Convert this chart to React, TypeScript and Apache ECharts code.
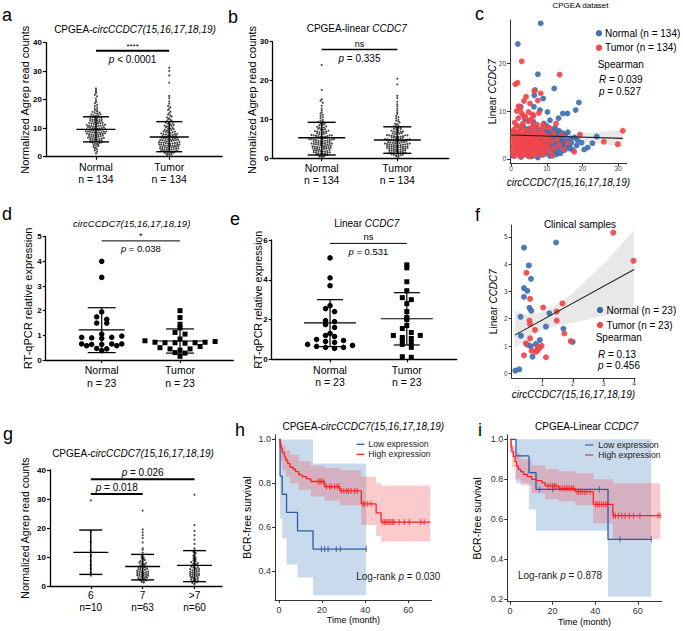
import React, { useEffect, useRef } from "react";
import * as echarts from "echarts";

const FONT = "'Liberation Sans', Arial, Helvetica, sans-serif";
const BLUE = "#3f6fb4";
const RED = "#f0474c";
const KM_BLUE = "#2a5ca8";
const KM_RED = "#ff1f1f";

// ---------------- panel a : CPGEA circCCDC7 read counts ----------------
const abCategories = ["Normal", "Tumor"];
const abCounts = ["n = 134", "n = 134"];
const aNormal = [
  1.2, 1.8, 2.2, 2.6, 2.9, 3.1, 3.4, 3.7, 3.9, 4.1, 4.2, 4.5, 4.6, 4.8, 4.9,
  5.0, 5.2, 5.3, 5.4, 5.6, 5.7, 5.8, 5.9, 6.0, 6.1, 6.2, 6.3, 6.4, 6.5, 6.6, 6.7, 6.8, 6.9,
  7.0, 7.1, 7.2, 7.3, 7.4, 7.5, 7.6, 7.7, 7.8, 7.9, 7.9,
  8.0, 8.1, 8.2, 8.3, 8.4, 8.5, 8.5, 8.6, 8.7, 8.8, 8.8, 8.9, 8.9,
  9.0, 9.1, 9.2, 9.3, 9.4, 9.5, 9.5, 9.6, 9.7, 9.8, 9.9, 9.9,
  10.0, 10.1, 10.2, 10.3, 10.4, 10.5, 10.6, 10.7, 10.8, 10.9, 10.9,
  11.0, 11.1, 11.2, 11.3, 11.5, 11.6, 11.7, 11.8, 11.9, 11.9,
  12.0, 12.1, 12.3, 12.4, 12.6, 12.7, 12.8, 12.9, 12.9,
  13.0, 13.2, 13.3, 13.5, 13.6, 13.8, 13.9, 13.9,
  14.1, 14.3, 14.5, 14.6, 14.8, 14.9, 15.1, 15.3, 15.5, 15.7, 15.9,
  16.2, 16.5, 16.8, 17.3, 17.7, 18.2, 18.7, 19.2, 19.6, 20.4, 21.2, 21.7, 22.3, 22.8, 23.4, 24.0,
];
const aTumor = [
  0.3, 0.5, 0.7, 0.9, 1.1, 1.2, 1.3, 1.4, 1.5, 1.6, 1.7, 1.8, 1.9,
  2.0, 2.1, 2.2, 2.3, 2.4, 2.5, 2.5, 2.6, 2.7, 2.8, 2.9, 2.9,
  3.0, 3.1, 3.2, 3.3, 3.4, 3.4, 3.5, 3.6, 3.7, 3.8, 3.8, 3.9, 3.9,
  4.0, 4.1, 4.2, 4.3, 4.3, 4.4, 4.5, 4.6, 4.7, 4.8, 4.8, 4.9, 4.9,
  5.0, 5.1, 5.2, 5.3, 5.4, 5.5, 5.6, 5.7, 5.8, 5.8, 5.9, 5.9,
  6.0, 6.1, 6.2, 6.3, 6.4, 6.5, 6.6, 6.7, 6.8, 6.9, 6.9,
  7.0, 7.1, 7.2, 7.3, 7.5, 7.6, 7.7, 7.8, 7.9, 7.9,
  8.0, 8.2, 8.3, 8.5, 8.6, 8.7, 8.8, 8.9, 9.0, 9.2, 9.4, 9.5, 9.7, 9.8, 9.9,
  10.1, 10.3, 10.5, 10.6, 10.8, 10.9, 11.1, 11.3, 11.5, 11.7, 11.9,
  12.2, 12.5, 12.7, 12.9, 13.2, 13.5, 13.8, 14.1, 14.5, 14.8, 15.3, 15.8,
  16.4, 16.9, 17.4, 17.8, 18.6, 19.4, 20.5, 21.3, 26.0, 28.5, 30.1, 31.2,
];
// [group, mean, mean - SD, mean + SD]
const aStats = [[1, 9.6, 5.2, 14.0], [2, 6.9, 1.75, 12.3]];

// ---------------- panel b : CPGEA linear CCDC7 read counts ----------------
const bNormal = [
  0.3, 0.4, 0.5, 0.6, 0.7, 0.8, 0.9, 0.9,
  1.0, 1.1, 1.2, 1.3, 1.3, 1.4, 1.5, 1.5, 1.6, 1.7, 1.8, 1.8, 1.9, 1.9,
  2.0, 2.1, 2.1, 2.2, 2.3, 2.4, 2.4, 2.5, 2.5, 2.6, 2.7, 2.7, 2.8, 2.8, 2.9, 2.9, 2.9,
  3.0, 3.1, 3.1, 3.2, 3.3, 3.4, 3.4, 3.5, 3.5, 3.6, 3.7, 3.7, 3.8, 3.8, 3.9, 3.9, 3.9,
  4.0, 4.1, 4.1, 4.2, 4.3, 4.4, 4.4, 4.5, 4.5, 4.6, 4.7, 4.7, 4.8, 4.8, 4.9, 4.9, 4.9,
  5.0, 5.1, 5.2, 5.3, 5.3, 5.4, 5.5, 5.5, 5.6, 5.7, 5.7, 5.8, 5.9, 5.9, 5.9,
  6.0, 6.1, 6.2, 6.3, 6.4, 6.5, 6.6, 6.7, 6.8, 6.9, 6.9,
  7.0, 7.1, 7.3, 7.4, 7.5, 7.6, 7.8, 7.9, 7.9,
  8.1, 8.2, 8.4, 8.5, 8.7, 8.8, 8.9, 9.1, 9.3, 9.5, 9.7, 9.9,
  10.3, 10.6, 10.9, 11.2, 11.5, 11.8, 12.3, 12.8, 13.5, 14.3, 14.8, 15.2, 17.6, 24.0,
];
const bTumor = [
  0.3, 0.5, 0.6, 0.7, 0.8, 0.9, 0.9,
  1.0, 1.1, 1.2, 1.3, 1.3, 1.4, 1.5, 1.5, 1.6, 1.7, 1.8, 1.8, 1.9, 1.9,
  2.0, 2.1, 2.1, 2.2, 2.2, 2.3, 2.4, 2.4, 2.5, 2.5, 2.6, 2.7, 2.7, 2.8, 2.8, 2.9, 2.9, 2.9,
  3.0, 3.0, 3.1, 3.1, 3.2, 3.3, 3.3, 3.4, 3.4, 3.5, 3.5, 3.6, 3.6, 3.7, 3.7, 3.8, 3.8, 3.9, 3.9, 3.9,
  4.0, 4.1, 4.1, 4.2, 4.2, 4.3, 4.4, 4.4, 4.5, 4.5, 4.6, 4.7, 4.7, 4.8, 4.8, 4.9, 4.9, 4.9,
  5.0, 5.1, 5.2, 5.3, 5.3, 5.4, 5.5, 5.5, 5.6, 5.7, 5.7, 5.8, 5.9, 5.9, 5.9,
  6.0, 6.1, 6.2, 6.3, 6.4, 6.5, 6.6, 6.7, 6.8, 6.9, 6.9,
  7.1, 7.2, 7.4, 7.5, 7.6, 7.8, 7.9, 7.9, 8.2, 8.4, 8.6, 8.8, 8.9,
  9.2, 9.5, 9.7, 9.9, 10.3, 10.6, 10.9, 11.4, 11.8, 12.3, 12.8, 13.4, 13.9, 14.6,
  15.5, 16.1, 19.0, 20.5,
];
const bStats = [[1, 5.3, 0.85, 9.26], [2, 4.7, 1.28, 8.1]];

// ---------------- panel c : CPGEA scatter [circ, linear] ----------------
const cNormal = [
  [8.3, 28.3], [1.9, 24.0], [7.5, 17.7], [12.1, 14.7], [6.7, 14.4], [6.5, 13.3], [9.0, 12.6], [19.0, 11.8],
  [18.1, 10.2], [2.7, 10.9], [6.4, 10.9], [8.1, 10.2], [15.8, 9.5], [14.5, 9.5], [3.9, 8.3], [10.2, 9.8],
  [13.3, 8.5], [10.9, 8.1], [5.3, 8.1], [0.4, 0.7], [2.0, 4.9], [24.0, 4.7], [20.5, 2.0], [19.8, 3.4],
  [18.4, 2.8], [16.4, 2.6], [14.5, 3.1],
  [3.2, 2.1], [3.5, 4.4], [3.8, 1.2], [4.1, 5.6], [4.3, 3.0], [4.6, 0.8], [4.8, 6.3], [5.0, 2.6], [3.4, 6.8], [4.9, 4.0],
  [5.2, 1.5], [5.4, 5.1], [5.6, 3.5], [5.8, 0.5], [6.0, 4.6], [6.1, 2.2], [6.3, 7.0], [6.5, 3.8], [6.7, 1.0], [6.9, 5.5], [5.5, 6.1], [6.6, 2.9],
  [7.0, 3.3], [7.1, 6.6], [7.2, 1.8], [7.4, 4.9], [7.5, 0.3], [7.7, 3.9], [7.9, 5.9], [8.0, 2.4], [8.2, 4.3], [8.3, 1.3],
  [8.5, 5.2], [8.6, 3.1], [8.8, 0.9], [8.9, 6.4], [7.6, 2.7], [8.4, 3.6],
  [9.0, 2.0], [9.1, 4.7], [9.3, 3.4], [9.4, 5.8], [9.6, 1.1], [9.7, 2.9], [9.9, 4.1], [10.0, 6.9], [10.2, 3.7], [10.3, 1.6],
  [10.5, 5.3], [10.6, 2.5], [10.8, 4.5], [10.9, 0.6], [9.5, 3.9], [10.1, 4.9],
  [11.0, 3.2], [11.2, 5.0], [11.3, 1.9], [11.5, 4.2], [11.6, 2.8], [11.8, 6.0], [12.0, 3.5], [12.2, 1.4], [12.4, 4.8], [12.5, 2.3],
  [12.7, 5.6], [12.9, 3.0], [11.7, 0.7],
  [13.1, 4.4], [13.2, 2.0], [13.4, 5.9], [13.6, 3.3], [13.8, 1.2], [14.0, 4.0], [14.2, 2.7], [14.4, 5.4], [14.7, 3.6], [14.9, 1.8],
  [15.1, 4.9], [15.3, 2.9], [15.6, 3.8], [15.9, 5.6], [16.2, 2.2], [16.6, 4.3], [16.9, 3.4], [17.3, 1.9],
  [2.5, 3.1], [2.8, 0.4], [1.5, 1.8], [17.8, 4.5], [18.6, 3.9], [21.5, 2.4], [22.8, 3.3], [12.3, 6.5], [9.2, 7.4], [6.2, 7.8],
  [5.9, 3.4], [7.3, 4.6], [8.7, 2.1], [9.8, 3.0], [10.4, 5.7], [11.1, 4.1], [12.8, 1.0], [13.9, 4.9], [6.4, 5.0], [7.8, 1.6],
  [4.5, 2.4], [14.3, 3.9],
];
const cTumor = [
  [3.0, 20.4], [1.8, 15.9], [1.2, 15.6], [13.6, 17.6], [6.5, 14.2], [8.3, 13.7], [4.2, 13.0], [7.5, 12.2], [2.1, 11.0],
  [1.6, 10.0], [3.0, 9.5], [4.9, 9.8], [6.3, 9.0], [12.6, 7.4], [31.3, 5.9], [29.9, 3.1], [26.0, 3.6], [19.3, 5.1],
  [17.7, 1.5], [15.8, 3.4], [0.65, 5.7], [0.4, 3.5],
  [0.5, 1.2], [0.7, 2.8], [0.9, 4.3], [1.0, 0.6], [1.1, 3.5], [1.3, 5.2], [1.4, 1.9], [1.6, 2.6], [1.7, 4.0], [1.9, 0.9],
  [0.8, 6.1], [1.2, 3.1], [1.8, 5.6], [0.6, 4.8],
  [2.0, 3.3], [2.1, 1.5], [2.2, 4.6], [2.4, 2.2], [2.5, 5.8], [2.6, 0.7], [2.7, 3.9], [2.9, 2.9], [3.0, 6.4], [3.1, 1.8],
  [3.2, 4.2], [3.4, 3.0], [3.5, 0.9], [3.6, 5.1], [3.7, 2.4], [3.9, 3.7], [2.3, 6.8], [3.3, 7.4], [2.8, 4.9], [3.8, 1.3],
  [4.0, 4.5], [4.1, 2.0], [4.2, 3.4], [4.3, 6.0], [4.5, 1.1], [4.6, 2.8], [4.7, 4.9], [4.8, 3.9], [5.0, 0.5], [5.1, 2.5],
  [5.2, 5.5], [5.4, 3.2], [5.5, 1.6], [5.6, 4.1], [5.8, 6.6], [5.9, 2.9], [4.4, 3.1], [5.3, 4.7], [4.9, 7.8], [5.7, 1.0],
  [6.0, 3.6], [6.1, 1.4], [6.2, 5.0], [6.4, 2.3], [6.5, 4.4], [6.6, 0.8], [6.7, 3.0], [6.9, 5.9], [7.0, 2.0], [7.1, 4.0],
  [7.3, 1.2], [7.4, 3.5], [7.6, 5.3], [7.7, 2.6], [7.9, 4.6], [6.3, 6.9], [7.2, 7.2], [6.8, 3.8],
  [8.0, 3.1], [8.1, 1.7], [8.2, 4.8], [8.4, 2.4], [8.5, 5.6], [8.7, 3.4], [8.8, 0.9], [9.0, 4.2], [9.2, 2.1], [9.4, 5.1],
  [9.5, 3.0], [9.7, 1.3], [9.9, 4.0], [8.6, 6.3], [9.3, 6.8],
  [10.2, 2.7], [10.5, 4.6], [10.9, 1.9], [11.3, 3.6], [11.8, 5.4], [12.3, 2.3], [12.9, 4.1], [13.5, 3.0], [14.2, 5.0],
  [14.8, 2.0], [10.7, 6.5], [11.5, 0.8],
  [0.4, 2.0], [1.5, 7.0], [2.0, 8.5], [4.0, 8.8], [5.5, 8.2], [1.0, 7.6], [3.5, 9.0],
  [6.0, 9.3], [7.8, 9.6], [2.6, 10.5], [8.9, 7.1], [5.3, 11.6], [3.6, 12.1],
];
const cFit = [[0, 5.0], [31.3, 4.3]];
const cBandX = [0, 5, 10, 15, 20, 25, 31.3];
const cBandLo = [4.45, 4.5, 4.4, 4.15, 3.7, 3.2, 2.5];
const cBandHi = [5.55, 5.28, 5.15, 5.17, 5.4, 5.7, 6.1];

// ---------------- panel d : RT-qPCR circCCDC7 ----------------
const deCounts = ["n = 23", "n = 23"];
const dNormal = [4.0, 3.35, 1.95, 1.75, 1.65, 1.5, 1.5, 1.05, 0.97, 0.92, 0.92, 0.9, 0.88, 0.65, 0.65, 0.63, 0.63, 0.65, 0.58, 0.58, 0.47, 0.45, 0.38];
const dTumor = [2.0, 1.72, 1.45, 1.3, 1.12, 1.05, 0.85, 0.78, 0.75, 0.72, 0.72, 0.7, 0.7, 0.7, 0.68, 0.55, 0.5, 0.45, 0.45, 0.4, 0.3, 0.28, 0.15];
const dStats = [[1, 1.22, 0.3, 2.12], [2, 0.77, 0.28, 1.26]];

// ---------------- panel e : RT-qPCR linear CCDC7 ----------------
const eNormal = [5.1, 4.1, 3.7, 2.7, 2.55, 2.4, 1.95, 1.9, 1.75, 1.6, 1.3, 1.2, 1.15, 1.0, 0.95, 0.9, 0.85, 0.75, 0.7, 0.65, 0.6, 0.6, 0.55];
const eTumor = [4.75, 4.6, 3.9, 3.45, 3.1, 3.0, 2.8, 2.4, 2.1, 2.0, 1.7, 1.55, 1.35, 1.2, 1.2, 1.1, 1.05, 0.95, 0.85, 0.75, 0.6, 0.13, 0.1];
const eStats = [[1, 1.83, 0.64, 3.0], [2, 2.04, 0.72, 3.35]];

// ---------------- panel f : clinical scatter [circ, linear] ----------------
const fNormal = [
  [1.45, 4.79], [0.4, 4.6], [0.56, 3.95], [0.63, 3.46], [0.4, 3.12], [0.51, 3.02], [0.4, 2.8], [0.58, 2.4],
  [0.64, 2.29], [0.29, 2.07], [1.23, 2.2], [1.12, 1.71], [1.69, 1.63], [0.3, 1.38], [0.51, 1.05], [0.62, 1.0],
  [0.79, 1.07], [0.92, 1.22], [0.84, 0.88], [0.68, 0.61], [1.99, 1.15], [0.12, 0.1], [0.25, 0.15],
];
const fTumor = [
  [3.32, 5.15], [3.98, 4.12], [0.48, 3.68], [0.6, 2.73], [1.03, 2.41], [1.66, 2.56], [1.47, 2.26], [0.58, 1.93],
  [0.6, 1.8], [1.47, 1.93], [0.76, 1.59], [1.72, 1.46], [1.93, 1.18], [0.6, 1.28], [0.46, 1.1], [0.98, 1.01],
  [0.87, 0.98], [0.9, 0.91], [0.84, 0.83], [0.65, 0.83], [0.78, 0.79], [0.4, 0.66], [1.12, 0.59],
];
const fFit = [[0.1, 1.4], [4.0, 3.8]];
const fBandX = [0.1, 0.5, 1.0, 1.5, 2.0, 3.0, 4.0];
const fBandLo = [0.9, 1.3, 1.6, 1.75, 1.85, 2.1, 2.4];
const fBandHi = [2.3, 2.15, 2.25, 2.55, 2.95, 4.0, 5.25];

// ---------------- panel g : by Gleason score ----------------
const gCategories = ["6", "7", ">7"];
const gCounts = ["n=10", "n=63", "n=60"];
const g6 = [29.5, 19.0, 15.2, 12.1, 10.3, 8.6, 7.1, 6.0, 4.6, 3.6];
const g7 = [
  1.2, 1.4, 1.6, 1.8, 1.9, 2.1, 2.3, 2.5, 2.6, 2.8, 2.9, 3.0, 3.2, 3.3, 3.5, 3.6, 3.7, 3.8, 3.9,
  4.0, 4.1, 4.3, 4.4, 4.5, 4.7, 4.8, 4.9, 5.0, 5.2, 5.3, 5.5, 5.6, 5.8, 5.9, 6.1, 6.2, 6.4, 6.6, 6.7, 6.9,
  7.0, 7.3, 7.5, 7.7, 7.9, 8.1, 8.4, 8.6, 8.9, 9.2, 9.5, 9.8, 10.3, 10.7, 11.5,
  12.5, 13.0, 15.0, 16.5, 17.5, 18.5, 19.5, 26.0,
];
const g8 = [
  0.6, 0.9, 1.1, 1.3, 1.6, 1.8, 2.0, 2.2, 2.4, 2.6, 2.8, 2.9, 3.0, 3.2, 3.4, 3.5, 3.7, 3.8, 3.9,
  4.0, 4.2, 4.3, 4.5, 4.6, 4.8, 4.9, 5.1, 5.3, 5.4, 5.6, 5.8, 5.9, 6.1, 6.3, 6.5, 6.7, 6.9,
  7.1, 7.3, 7.5, 7.7, 7.9, 8.2, 8.5, 8.8, 9.1, 9.5, 9.8, 10.4, 10.8, 11.3, 11.8, 12.4,
  13.0, 14.5, 16.0, 17.5, 19.0, 21.0, 31.5,
];
const gStats = [[1, 11.6, 4.0, 19.3], [2, 6.7, 2.1, 10.9], [3, 7.1, 1.5, 12.2]];

// ---------------- panel h : KM circCCDC7 ----------------
const hLow = [[0, 1], [0.5, 0.833], [1.5, 0.75], [3.5, 0.667], [8.6, 0.583], [15.8, 0.5], [40.5, 0.5]];
const hLowCensor = [[19.7, 0.5], [21.2, 0.5], [22.8, 0.5], [26.6, 0.5], [28.5, 0.5], [40.5, 0.5]];
const hHigh = [
  [0, 1], [0.5, 0.98], [0.9, 0.96], [1.5, 0.94], [2.5, 0.92], [3.1, 0.905], [4, 0.89], [5.1, 0.873], [6.6, 0.864],
  [7.7, 0.853], [9.2, 0.838], [10.8, 0.83], [12.8, 0.82], [14.8, 0.808], [21.2, 0.785], [28.2, 0.765], [38.2, 0.706],
  [45.1, 0.665], [47.4, 0.623], [70.2, 0.623],
];
const hHighCensor = [
  [18.2, 0.808], [19, 0.808], [19.7, 0.808], [20.6, 0.808],
  [22, 0.785], [23.5, 0.785], [24.3, 0.785], [25.8, 0.785], [27, 0.785], [27.8, 0.785],
  [29, 0.765], [30.1, 0.765], [31.4, 0.765], [32.3, 0.765], [33.5, 0.765], [35.1, 0.765], [36.3, 0.765],
  [39, 0.706], [39.7, 0.706], [41.2, 0.706], [42.8, 0.706],
  [48.2, 0.623], [49, 0.623], [49.7, 0.623], [50.5, 0.623], [51.2, 0.623], [52, 0.623], [52.8, 0.623], [53.5, 0.623],
  [55.8, 0.623], [58.2, 0.623], [60.5, 0.623], [65.8, 0.623], [67.4, 0.623],
];
const hLowBandT = [0.5, 1.5, 3.5, 8.6, 15.8, 40.5];
const hLowBandLo = [0.64, 0.55, 0.43, 0.37, 0.29];
const hLowBandHi = [1, 1, 1, 1, 0.89];
const hHighBandT = [0, 0.5, 1.5, 3.1, 5.1, 9.2, 14.8, 21.2, 28.2, 38.2, 45.1, 47.4, 70.2];
const hHighBandHi = [1.0, 0.99, 0.97, 0.95, 0.93, 0.9, 0.88, 0.87, 0.86, 0.83, 0.8, 0.79];
const hHighBandLo = [0.96, 0.9, 0.86, 0.83, 0.8, 0.77, 0.74, 0.72, 0.7, 0.61, 0.56, 0.535];

// ---------------- panel i : KM linear CCDC7 ----------------
const iLow = [[0, 1], [2.8, 0.917], [8.9, 0.833], [12.2, 0.75], [46, 0.5], [66.3, 0.5]];
const iLowCensor = [[13.8, 0.75], [20, 0.75], [41.9, 0.75], [51.6, 0.5], [66.3, 0.5]];
const iHigh = [
  [0, 1], [0.5, 0.963], [0.9, 0.938], [1.6, 0.913], [2.4, 0.888], [3.1, 0.867], [3.9, 0.85], [5.0, 0.838],
  [6.3, 0.825], [8.2, 0.813], [10.2, 0.8], [12.6, 0.793], [15, 0.783], [16.5, 0.767], [22.8, 0.755],
  [30.7, 0.738], [39.1, 0.675], [48.3, 0.618], [70.5, 0.618],
];
const iHighCensor = [
  [17.8, 0.767], [18.9, 0.767], [20, 0.767], [20.8, 0.767], [21.6, 0.767],
  [23.4, 0.755], [24.5, 0.755], [25.6, 0.755], [26.4, 0.755], [27.2, 0.755], [28, 0.755], [29, 0.755], [29.8, 0.755],
  [31.5, 0.738], [32.3, 0.738], [33, 0.738], [34, 0.738], [35, 0.738], [36, 0.738], [37.5, 0.738],
  [40.2, 0.675], [41, 0.675], [42, 0.675], [43, 0.675], [44, 0.675], [45, 0.675], [45.8, 0.675],
  [48.6, 0.618], [49.5, 0.618], [51, 0.618], [52.5, 0.618], [54, 0.618], [56, 0.618], [58, 0.618], [61, 0.618],
  [69.5, 0.618], [70.5, 0.618],
];
const iLowBandT = [2.8, 8.9, 12.2, 46, 66.3];
const iLowBandLo = [0.78, 0.65, 0.543, 0.213];
const iLowBandHi = [1, 1, 1, 1];
const iHighBandT = [0, 1, 2.4, 5, 10.2, 16.5, 22.8, 30.7, 39.1, 48.3, 70.5];
const iHighBandHi = [1.0, 0.97, 0.93, 0.9, 0.87, 0.85, 0.84, 0.83, 0.8, 0.78];
const iHighBandLo = [0.93, 0.86, 0.8, 0.77, 0.73, 0.7, 0.69, 0.67, 0.58, 0.5];

// ====================== helpers ======================
function beeswarm(values: number[], center: number, bin: number, step: number) {
  const sorted = [...values].sort((p, q) => p - q);
  const out: number[][] = [];
  let i = 0;
  while (i < sorted.length) {
    const key = Math.floor(sorted[i] / bin + 1e-9);
    const group: number[] = [];
    while (i < sorted.length && Math.floor(sorted[i] / bin + 1e-9) === key) {
      group.push(sorted[i]);
      i++;
    }
    const shift = group.length % 2 === 0 ? step / 2 : 0;
    group.forEach((v, k) => {
      const side = k % 2 === 1 ? -1 : 1;
      out.push([center + side * Math.ceil(k / 2) * step + shift, v]);
    });
  }
  return out;
}

const rich = (size: number, color = "#000") => ({
  i: { fontSize: size, fontFamily: FONT, fontStyle: "italic", fill: color, color },
  n: { fontSize: size, fontFamily: FONT, fill: color, color },
});

function txtStyle(text: string, size: number, align = "center", color = "#000", weight = "normal") {
  return {
    text,
    fontSize: size,
    fontFamily: FONT,
    fontWeight: weight,
    fill: color,
    align,
    verticalAlign: "middle",
    textAlign: align,
    textVerticalAlign: "middle",
    rich: rich(size, color),
  };
}

function txt(x: number, y: number, text: string, size: number, align = "center", color = "#000", weight = "normal") {
  return { type: "text", x, y, silent: true, z: 100, style: txtStyle(text, size, align, color, weight) };
}

function prismX(gi: number, min: number, max: number, cats: string[], counts: string[], fs: number, lh: number) {
  const vals = cats.map((_, k) => k + 1);
  return {
    type: "value",
    gridIndex: gi,
    min,
    max,
    axisLine: { show: true, onZero: false, lineStyle: { color: "#000", width: 1.3 } },
    axisTick: { show: true, customValues: vals, length: 3, lineStyle: { color: "#000", width: 1.2 } },
    axisLabel: {
      show: true,
      customValues: vals,
      margin: 4,
      fontSize: fs,
      lineHeight: lh,
      fontFamily: FONT,
      color: "#000",
      formatter: (v: number) => {
        const r = Math.round(v);
        const k = vals.indexOf(r);
        return k < 0 || Math.abs(v - r) > 1e-6 ? "" : cats[k] + "\n" + counts[k];
      },
    },
    splitLine: { show: false },
  };
}

function prismY(gi: number, max: number, interval: number, name: string, nameGap: number, nameFs: number) {
  return {
    type: "value",
    gridIndex: gi,
    min: 0,
    max,
    interval,
    axisLine: { show: true, onZero: false, lineStyle: { color: "#000", width: 1.3 } },
    axisTick: { show: true, length: 3, lineStyle: { color: "#000", width: 1.2 } },
    axisLabel: { fontSize: 8, fontWeight: "bold", fontFamily: FONT, color: "#000", margin: 4 },
    splitLine: { show: false },
    name,
    nameLocation: "middle",
    nameGap,
    nameMoveOverlap: false,
    nameTextStyle: { fontSize: nameFs, fontFamily: FONT, color: "#000" },
  };
}

function plainAxis(
  gi: number, min: number, max: number, ticks: number[], fmt: (v: number) => string,
  labelFs: number, labelColor: string, margin: number, name: string, nameGap: number, nameFs: number, nameStyle = "normal"
) {
  return {
    type: "value",
    gridIndex: gi,
    min,
    max,
    axisLine: { show: true, onZero: false, lineStyle: { color: "#333", width: 1 } },
    axisTick: { show: true, customValues: ticks, length: 3, lineStyle: { color: "#333", width: 1 } },
    axisLabel: { customValues: ticks, formatter: fmt, fontSize: labelFs, fontFamily: FONT, color: labelColor, margin },
    splitLine: { show: false },
    name,
    nameLocation: "middle",
    nameGap,
    nameMoveOverlap: false,
    nameTextStyle: { fontSize: nameFs, fontFamily: FONT, fontStyle: nameStyle, color: "#000", rich: rich(nameFs) },
  };
}

function swarmSeries(gi: number, values: number[], center: number, bin: number, step: number, symbol: string, size: number, color: string) {
  return {
    type: "scatter",
    xAxisIndex: gi,
    yAxisIndex: gi,
    data: beeswarm(values, center, bin, step),
    symbol,
    symbolSize: size,
    itemStyle: { color, opacity: 1 },
    silent: true,
    z: 3,
  };
}

function errorBarSeries(gi: number, stats: number[][], meanHalf: number, capHalf: number, lw: number) {
  return {
    type: "custom",
    xAxisIndex: gi,
    yAxisIndex: gi,
    data: stats,
    encode: { x: 0, y: 1 },
    silent: true,
    z: 6,
    renderItem: (_params: any, api: any) => {
      const x = api.value(0);
      const pm = api.coord([x, api.value(1)]);
      const pl = api.coord([x, api.value(2)]);
      const ph = api.coord([x, api.value(3)]);
      const st = { stroke: "#000", lineWidth: lw, fill: null };
      return {
        type: "group",
        children: [
          { type: "line", shape: { x1: pm[0], y1: ph[1], x2: pm[0], y2: pl[1] }, style: st },
          { type: "line", shape: { x1: pm[0] - meanHalf, y1: pm[1], x2: pm[0] + meanHalf, y2: pm[1] }, style: st },
          { type: "line", shape: { x1: pm[0] - capHalf, y1: ph[1], x2: pm[0] + capHalf, y2: ph[1] }, style: st },
          { type: "line", shape: { x1: pm[0] - capHalf, y1: pl[1], x2: pm[0] + capHalf, y2: pl[1] }, style: st },
        ],
      };
    },
  };
}

type Sig = { x1: number; x2: number; y: number; above?: string; below?: string };
function sigSeries(gi: number, bars: Sig[], lw: number, aboveGap: number, belowGap: number, aboveFs: number, belowFs: number) {
  return {
    type: "custom",
    xAxisIndex: gi,
    yAxisIndex: gi,
    data: bars.map((b) => [b.x1, b.y, b.x2]),
    encode: { x: 0, y: 1 },
    silent: true,
    z: 7,
    renderItem: (params: any, api: any) => {
      const b = bars[params.dataIndex];
      const p1 = api.coord([b.x1, b.y]);
      const p2 = api.coord([b.x2, b.y]);
      const cx = (p1[0] + p2[0]) / 2;
      const children: any[] = [
        { type: "line", shape: { x1: p1[0], y1: p1[1], x2: p2[0], y2: p1[1] }, style: { stroke: "#000", lineWidth: lw } },
      ];
      if (b.above) children.push({ type: "text", x: cx, y: p1[1] - aboveGap, style: txtStyle(b.above, aboveFs) });
      if (b.below) children.push({ type: "text", x: cx, y: p1[1] + belowGap, style: txtStyle(b.below, belowFs) });
      return { type: "group", children };
    },
  };
}

function bandSeries(gi: number, xs: number[], lo: number[], hi: number[], color: string, stepped: boolean, z = 1) {
  return {
    type: "custom",
    xAxisIndex: gi,
    yAxisIndex: gi,
    data: [[xs[0], lo[0]]],
    encode: { x: 0, y: 1 },
    silent: true,
    z,
    renderItem: (_params: any, api: any) => {
      const top: number[][] = [];
      const bot: number[][] = [];
      if (stepped) {
        for (let k = 0; k < lo.length; k++) {
          top.push([xs[k], hi[k]], [xs[k + 1], hi[k]]);
          bot.push([xs[k], lo[k]], [xs[k + 1], lo[k]]);
        }
      } else {
        for (let k = 0; k < xs.length; k++) {
          top.push([xs[k], hi[k]]);
          bot.push([xs[k], lo[k]]);
        }
      }
      const pts = top.map((p) => api.coord(p)).concat(bot.reverse().map((p) => api.coord(p)));
      return { type: "polygon", shape: { points: pts }, style: { fill: color, stroke: "none" } };
    },
  };
}

function kmLine(gi: number, data: number[][], color: string, z = 4) {
  return {
    type: "line",
    xAxisIndex: gi,
    yAxisIndex: gi,
    data,
    step: "end",
    symbol: "none",
    showSymbol: false,
    lineStyle: { color, width: 1.3 },
    silent: true,
    z,
  };
}

function censorSeries(gi: number, data: number[][], color: string) {
  return {
    type: "scatter",
    xAxisIndex: gi,
    yAxisIndex: gi,
    data,
    symbol: "rect",
    symbolSize: [1.1, 6],
    itemStyle: { color },
    silent: true,
    z: 5,
  };
}

function pointSeries(gi: number, data: number[][], color: string, size: number, z = 3) {
  return {
    type: "scatter",
    xAxisIndex: gi,
    yAxisIndex: gi,
    data,
    symbol: "circle",
    symbolSize: size,
    itemStyle: { color, opacity: 0.92 },
    silent: true,
    z,
  };
}

function fitLine(gi: number, data: number[][]) {
  return {
    type: "line",
    xAxisIndex: gi,
    yAxisIndex: gi,
    data,
    symbol: "none",
    lineStyle: { color: "#222", width: 1.1 },
    silent: true,
    z: 6,
  };
}

function buildOption() {
  const grids = [
    { left: 46, top: 42.7, width: 176, height: 114 }, // a
    { left: 272.7, top: 41.7, width: 176, height: 116.6 }, // b
    { left: 510, top: 20, width: 116.7, height: 143.3 }, // c
    { left: 45.7, top: 236.7, width: 187.6, height: 123.3 }, // d
    { left: 271.7, top: 240, width: 185, height: 119.3 }, // e
    { left: 511.7, top: 225, width: 123.3, height: 153.3 }, // f
    { left: 50, top: 470, width: 172, height: 116 }, // g
    { left: 275, top: 435, width: 156.7, height: 165 }, // h
    { left: 507.3, top: 435, width: 154.4, height: 166.7 }, // i
  ].map((g) => ({ ...g, containLabel: false, outerBoundsMode: "none", show: false }));

  const int = (v: number) => String(Math.round(v));
  const one = (v: number) => v.toFixed(1);

  const xAxis = [
    prismX(0, 0.318, 2.72, abCategories, abCounts, 10.5, 12),
    prismX(1, 0.352, 2.68, abCategories, abCounts, 10.5, 12),
    plainAxis(2, -0.3, 32.4, [0, 10, 20, 30], int, 6.5, "#444", 2, "circCCDC7(15,16,17,18,19)", 14, 10, "italic"),
    prismX(3, 0.285, 2.68, abCategories, deCounts, 10.5, 12.5),
    prismX(4, 0.24, 2.65, abCategories, deCounts, 10.5, 12.5),
    plainAxis(5, 0, 4.03, [1, 2, 3, 4], int, 6.5, "#444", 2, "circCCDC7(15,16,17,18,19)", 11, 10, "italic"),
    prismX(6, 0.214, 3.53, gCategories, gCounts, 10, 11.7),
    plainAxis(7, -1.86, 70.9, [0, 20, 40, 60], int, 9, "#333", 5, "Time (month)", 15, 9),
    plainAxis(8, -1.27, 71.2, [0, 20, 40, 60], int, 9, "#333", 5, "Time (month)", 16, 9),
  ];
  const yAxis = [
    prismY(0, 40, 10, "Normalized Agrep read counts", 15.5, 11),
    prismY(1, 30, 10, "Normalized Agrep read counts", 15, 11),
    plainAxis(2, -0.9, 29, [0, 10, 20], int, 6.5, "#444", 4, "{n|Linear }{i|CCDC7}", 13, 10),
    prismY(3, 5, 1, "RT-qPCR relative expression", 12, 11),
    prismY(4, 6, 2, "RT-qPCR relative expression", 8, 10.7),
    plainAxis(5, -0.18, 5.43, [0, 1, 2, 3, 4, 5], int, 6.5, "#444", 4, "{n|Linear }{i|CCDC7}", 13.5, 10),
    prismY(6, 40, 10, "Normalized Agrep read counts", 19.5, 10.5),
    plainAxis(7, 0.268, 1.02, [0.4, 0.6, 0.8, 1.0], one, 9, "#333", 4, "BCR-free survival", 23, 10.5),
    plainAxis(8, 0.188, 1.0215, [0.2, 0.4, 0.6, 0.8, 1.0], one, 9, "#333", 4, "BCR-free survival", 24.5, 10.5),
  ];

  const DOT = "#444444";
  const series: any[] = [
    // a
    swarmSeries(0, aNormal, 1, 0.75, 0.031, "circle", 2.1, DOT),
    swarmSeries(0, aTumor, 2, 0.75, 0.031, "circle", 2.1, DOT),
    errorBarSeries(0, aStats, 19.5, 13, 1.4),
    sigSeries(0, [{ x1: 1, x2: 2, y: 37.2, above: "****", below: "{i|p} < 0.0001" }], 2, 4, 8.5, 8, 10),
    // b
    swarmSeries(1, bNormal, 1, 0.55, 0.03, "circle", 2.1, DOT),
    swarmSeries(1, bTumor, 2, 0.55, 0.03, "circle", 2.1, DOT),
    errorBarSeries(1, bStats, 23.5, 14, 1.4),
    sigSeries(1, [{ x1: 1, x2: 2, y: 28.0, above: "ns", below: "{i|p} = 0.335" }], 1.6, 5.5, 9, 9, 10),
    // c
    bandSeries(2, cBandX, cBandLo, cBandHi, "rgba(0,0,0,0.09)", false, 1),
    pointSeries(2, cNormal, BLUE, 5.8, 3),
    pointSeries(2, cTumor, RED, 5.8, 4),
    fitLine(2, cFit),
    // d
    swarmSeries(3, dNormal, 1, 0.2, 0.128, "circle", 5.5, "#000"),
    swarmSeries(3, dTumor, 2, 0.2, 0.128, "rect", 5, "#000"),
    errorBarSeries(3, dStats, 23, 14, 1.2),
    sigSeries(3, [{ x1: 1, x2: 2, y: 4.83, above: "*", below: "{i|p} = 0.038" }], 1, 5, 7.5, 9, 9.5),
    // e
    swarmSeries(4, eNormal, 1, 0.26, 0.117, "circle", 5.5, "#000"),
    swarmSeries(4, eTumor, 2, 0.26, 0.117, "rect", 5, "#000"),
    errorBarSeries(4, eStats, 26, 13, 1.2),
    sigSeries(4, [{ x1: 1, x2: 2, y: 5.83, above: "ns", below: "{i|p} = 0.531" }], 1, 6.5, 8.5, 9.5, 9.5),
    // f
    bandSeries(5, fBandX, fBandLo, fBandHi, "rgba(0,0,0,0.09)", false, 1),
    fitLine(5, fFit),
    pointSeries(5, fNormal, BLUE, 6, 3),
    pointSeries(5, fTumor, RED, 6, 4),
    // g
    swarmSeries(6, g6, 1, 0.75, 0.042, "circle", 2, DOT),
    swarmSeries(6, g7, 2, 0.75, 0.042, "circle", 2, DOT),
    swarmSeries(6, g8, 3, 0.75, 0.042, "circle", 2, DOT),
    errorBarSeries(6, gStats, 17.5, 11.5, 1.4),
    sigSeries(6, [
      { x1: 1, x2: 3, y: 36.8, above: "{i|p} = 0.026" },
      { x1: 1, x2: 2, y: 31.7, above: "{i|p} = 0.018" },
    ], 2, 7, 0, 10, 10),
    // h
    bandSeries(7, hLowBandT, hLowBandLo, hLowBandHi, "rgba(100,150,200,0.35)", true, 1),
    bandSeries(7, hHighBandT, hHighBandLo, hHighBandHi, "rgba(240,80,90,0.3)", true, 2),
    kmLine(7, hLow, KM_BLUE, 4),
    kmLine(7, hHigh, KM_RED, 5),
    censorSeries(7, hLowCensor, KM_BLUE),
    censorSeries(7, hHighCensor, KM_RED),
    // i
    bandSeries(8, iLowBandT, iLowBandLo, iLowBandHi, "rgba(100,150,200,0.35)", true, 1),
    bandSeries(8, iHighBandT, iHighBandLo, iHighBandHi, "rgba(240,80,90,0.3)", true, 2),
    kmLine(8, iLow, KM_BLUE, 4),
    kmLine(8, iHigh, KM_RED, 5),
    censorSeries(8, iLowCensor, KM_BLUE),
    censorSeries(8, iHighCensor, KM_RED),
  ];

  const circTitle = "CPGEA-{i|circCCDC7(15,16,17,18,19)}";
  const graphic: any[] = [
    // panel letters
    txt(2, 14.7, "a", 18, "left"),
    txt(228, 17, "b", 18, "left"),
    txt(475, 14.4, "c", 18, "left"),
    txt(2, 213.7, "d", 18, "left"),
    txt(230, 218.7, "e", 18, "left"),
    txt(475, 215.4, "f", 18, "left"),
    txt(3, 434.4, "g", 18, "left"),
    txt(235, 430.4, "h", 18, "left"),
    txt(478, 430.4, "i", 18, "left"),
    // titles
    txt(135, 29.3, circTitle, 10),
    txt(356.7, 28.3, "CPGEA-linear {i|CCDC7}", 10),
    txt(580.5, 5, "CPGEA dataset", 8),
    txt(131.7, 223.3, "{i|circCCDC7(15,16,17,18,19)}", 9.5),
    txt(366.7, 223.3, "Linear {i|CCDC7}", 10),
    txt(580, 224, "Clinical samples", 10),
    txt(133, 453.3, circTitle, 10),
    txt(363.3, 426.7, circTitle, 10),
    txt(586.7, 426.7, "CPGEA-Linear {i|CCDC7}", 10),
    // c legend
    { type: "circle", shape: { cx: 599, cy: 33.3, r: 3.2 }, style: { fill: BLUE }, silent: true },
    txt(605, 33.3, "Normal (n = 134)", 10, "left"),
    { type: "circle", shape: { cx: 599, cy: 47.7, r: 3.2 }, style: { fill: RED }, silent: true },
    txt(605, 47.7, "Tumor (n = 134)", 10, "left"),
    txt(597.7, 64.3, "Spearman", 10, "left"),
    txt(599, 79.3, "{i|R} = 0.039", 10, "left"),
    txt(599, 91.7, "{i|p} = 0.527", 10, "left"),
    // f legend
    { type: "circle", shape: { cx: 600, cy: 310, r: 3.2 }, style: { fill: BLUE }, silent: true },
    txt(606.5, 310, "Normal (n = 23)", 10, "left"),
    { type: "circle", shape: { cx: 600, cy: 325, r: 3.2 }, style: { fill: RED }, silent: true },
    txt(606.5, 325, "Tumor (n = 23)", 10, "left"),
    txt(595.7, 337.7, "Spearman", 10, "left"),
    txt(598, 354, "{i|R} = 0.13", 10, "left"),
    txt(598, 365.7, "{i|p} = 0.456", 10, "left"),
    // h legend
    { type: "line", shape: { x1: 356.7, y1: 444.3, x2: 364.3, y2: 444.3 }, style: { stroke: KM_BLUE, lineWidth: 1.3 }, silent: true },
    txt(368.3, 444.3, "Low expression", 8.7, "left", "#222"),
    { type: "line", shape: { x1: 356.7, y1: 454.3, x2: 364.3, y2: 454.3 }, style: { stroke: KM_RED, lineWidth: 1.3 }, silent: true },
    txt(368.3, 454.3, "High expression", 8.7, "left", "#222"),
    txt(398.3, 576.7, "Log-rank {i|p} = 0.030", 10, "center", "#222"),
    // i legend
    { type: "line", shape: { x1: 585, y1: 445, x2: 593.3, y2: 445 }, style: { stroke: KM_BLUE, lineWidth: 1.3 }, silent: true },
    txt(598.3, 445, "Low expression", 8.7, "left", "#222"),
    { type: "line", shape: { x1: 585, y1: 455, x2: 593.3, y2: 455 }, style: { stroke: KM_RED, lineWidth: 1.3 }, silent: true },
    txt(598.3, 455, "High expression", 8.7, "left", "#222"),
    txt(560, 575, "Log-rank {i|p} = 0.878", 10, "center", "#222"),
  ];

  return {
    animation: false,
    backgroundColor: "#ffffff",
    tooltip: { show: false },
    grid: grids,
    xAxis,
    yAxis,
    series,
    graphic,
  };
}

export default function App() {
  const ref = useRef<HTMLDivElement>(null);
  useEffect(() => {
    document.body.style.margin = "0";
    const chart = echarts.init(ref.current as HTMLDivElement, null, { renderer: "svg", width: 683, height: 631 });
    chart.setOption(buildOption() as any);
    return () => chart.dispose();
  }, []);
  return <div ref={ref} style={{ width: 683, height: 631, background: "#fff" }} />;
}
